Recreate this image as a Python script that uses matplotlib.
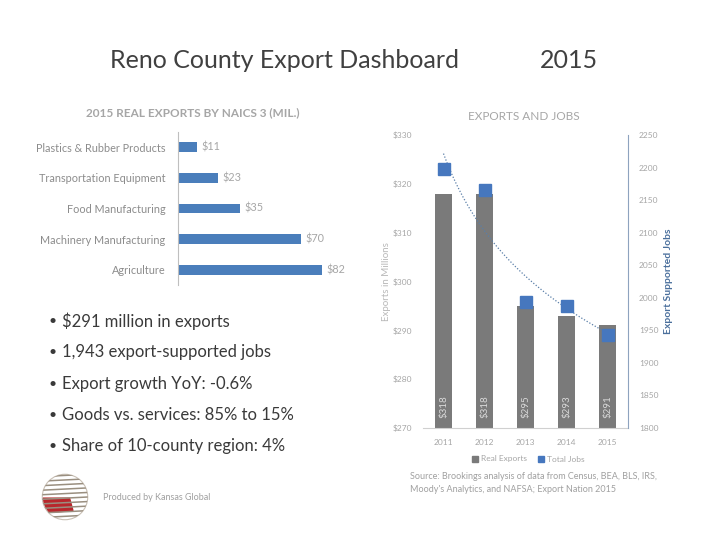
import numpy as np
import matplotlib
matplotlib.use("Agg")
import matplotlib.pyplot as plt
from matplotlib.patches import Circle, Polygon
from matplotlib.lines import Line2D

plt.rcParams['font.family'] = ['Lato', 'DejaVu Sans']

# data
naics_cats = ["Plastics & Rubber Products", "Transportation Equipment",
              "Food Manufacturing", "Machinery Manufacturing", "Agriculture"]
naics_vals = [11, 23, 35, 70, 82]

years = ["2011", "2012", "2013", "2014", "2015"]
real_exports = [318, 318, 295, 293, 291]
total_jobs = [2198, 2165, 1994, 1987, 1943]

bullets = ["$291 million in exports",
           "1,943 export-supported jobs",
           "Export growth YoY: -0.6%",
           "Goods vs. services: 85% to 15%",
           "Share of 10-county region: 4%"]

BLUE = "#4a7ebb"
GRAY_BAR = "#7a7a7a"
LIGHT = "#a6a6a6"
DARK = "#3a3a3a"

W, H = 720, 540
fig = plt.figure(figsize=(7.2, 5.4), dpi=100)

def px(x0, y0, x1, y1):
    # pixel box (top-left origin) -> figure fraction
    return [x0 / W, 1 - y1 / H, (x1 - x0) / W, (y1 - y0) / H]

# titles
fig.text(285 / W, 1 - 60 / H, "Reno County Export Dashboard", ha="center", va="center",
         fontsize=18, color="#404040")
fig.text(569 / W, 1 - 60 / H, "2015", ha="center", va="center", fontsize=18, color="#404040")

# ---- left: exports by NAICS
ax1 = fig.add_axes(px(178, 132, 354, 285))
ypos = np.arange(len(naics_cats))
ax1.barh(ypos, naics_vals, height=0.32, color=BLUE)
ax1.set_xlim(0, 100)
ax1.set_ylim(4.5, -0.5)
ax1.set_yticks(ypos)
ax1.set_yticklabels(naics_cats, fontsize=7.8, color="#8c8c8c")
ax1.tick_params(axis="y", length=0, pad=9)
ax1.set_xticks([])
for s in ["top", "right", "bottom"]:
    ax1.spines[s].set_visible(False)
ax1.spines["left"].set_color("#bfbfbf")
for y, v in zip(ypos, naics_vals):
    ax1.text(v + 2.5, y, f"${v}", va="center", ha="left", fontsize=7.8, color=LIGHT)
fig.text(193 / W, 1 - 113 / H, "2015 REAL EXPORTS BY NAICS 3 (MIL.)", ha="center",
         va="center", fontsize=8.5, color=LIGHT, fontweight="bold")

# ---- bullets
for i, b in enumerate(bullets):
    yy = 1 - (321 + i * 31.3) / H
    fig.text(48 / W, yy, "\u2022", ha="left", va="center", fontsize=10, color=DARK)
    fig.text(62 / W, yy, b, ha="left", va="center", fontsize=12, color=DARK)

# ---- right: exports and jobs
ax2 = fig.add_axes(px(423, 135, 628, 428))
x = np.arange(len(years))
ax2.bar(x, real_exports, width=0.42, color=GRAY_BAR, zorder=2)
ax2.set_ylim(270, 330)
ax2.set_xlim(-0.5, 4.5)
ax2.set_yticks(np.arange(270, 331, 10))
ax2.set_yticklabels([f"${v}" for v in range(270, 331, 10)], fontsize=6, color=LIGHT)
ax2.set_xticks(x)
ax2.set_xticklabels(years, fontsize=6, color=LIGHT)
ax2.tick_params(length=0, pad=8)
for s in ["top", "right", "left"]:
    ax2.spines[s].set_visible(False)
ax2.spines["bottom"].set_color("#d0d0d0")
ax2.set_ylabel("Exports in Millions", fontsize=7, color="#b8b8b8", labelpad=1)
for xi, v in zip(x, real_exports):
    ax2.text(xi, 272, f"${v}", rotation=90, ha="center", va="bottom", fontsize=7,
             color="#d9d9d9", zorder=3)

ax3 = ax2.twinx()
ax3.set_ylim(1800, 2250)
ax3.set_yticks(np.arange(1800, 2251, 50))
ax3.set_yticklabels([str(v) for v in range(1800, 2251, 50)], fontsize=6, color=LIGHT)
ax3.tick_params(length=0, pad=8)
for s in ["top", "left", "bottom"]:
    ax3.spines[s].set_visible(False)
ax3.spines["right"].set_color("#8ea3bf")
ax3.plot(x, total_jobs, "s", color="#4677be", markersize=8, zorder=4)
# logarithmic trendline, as in Excel
lx = np.log(x + 1)
b, a = np.polyfit(lx, total_jobs, 1)
xs = np.linspace(0, 4, 60)
ax3.plot(xs, a + b * np.log(xs + 1), ls=(0, (1, 1.5)), color="#5a7fa8", lw=0.9, zorder=3)
ax3.set_ylabel("Export Supported Jobs", fontsize=7.5, color="#4a6f9c",
               fontweight="bold", labelpad=4)

fig.text(524 / W, 1 - 117 / H, "EXPORTS AND JOBS", ha="center", va="center",
         fontsize=8.5, color=LIGHT)

handles = [Line2D([], [], marker="s", ls="none", color=GRAY_BAR, markersize=5),
           Line2D([], [], marker="s", ls="none", color="#4677be", markersize=5)]
fig.legend(handles, ["Real Exports", "Total Jobs"], loc="center",
           bbox_to_anchor=(528 / W, 1 - 459 / H), ncol=2, frameon=False,
           fontsize=6, labelcolor=LIGHT, handletextpad=0.2, columnspacing=1.2,
           handlelength=1)

# ---- footer
fig.text(103 / W, 1 - 497 / H, "Produced by Kansas Global", ha="left", va="center",
         fontsize=6.5, color="#a0a0a0")
fig.text(410 / W, 1 - 483 / H,
         "Source: Brookings analysis of data from Census, BEA, BLS, IRS,\n"
         "Moody's Analytics, and NAFSA; Export Nation 2015",
         ha="left", va="center", fontsize=6.5, color="#a0a0a0", linespacing=1.5)

# logo (rough globe)
axl = fig.add_axes(px(40, 472, 90, 522))
axl.set_xlim(-1.1, 1.1)
axl.set_ylim(-1.1, 1.1)
axl.set_aspect("equal")
axl.axis("off")
clip = Circle((0, 0), 1, transform=axl.transData)
for yy in np.linspace(-0.9, 0.9, 10):
    ln, = axl.plot([-1, 1], [yy, yy + 0.1], color="#9a8f80", lw=1.1)
    ln.set_clip_path(clip)
red = Polygon([[-1, -0.05], [0.2, -0.05], [0.35, -0.6], [-1, -0.7]], color="#b8272c")
axl.add_patch(red)
red.set_clip_path(clip)
axl.add_patch(Circle((0, 0), 1, fill=False, ec="#c9c0b5", lw=0.8))

fig.savefig("out.png", dpi=100)
